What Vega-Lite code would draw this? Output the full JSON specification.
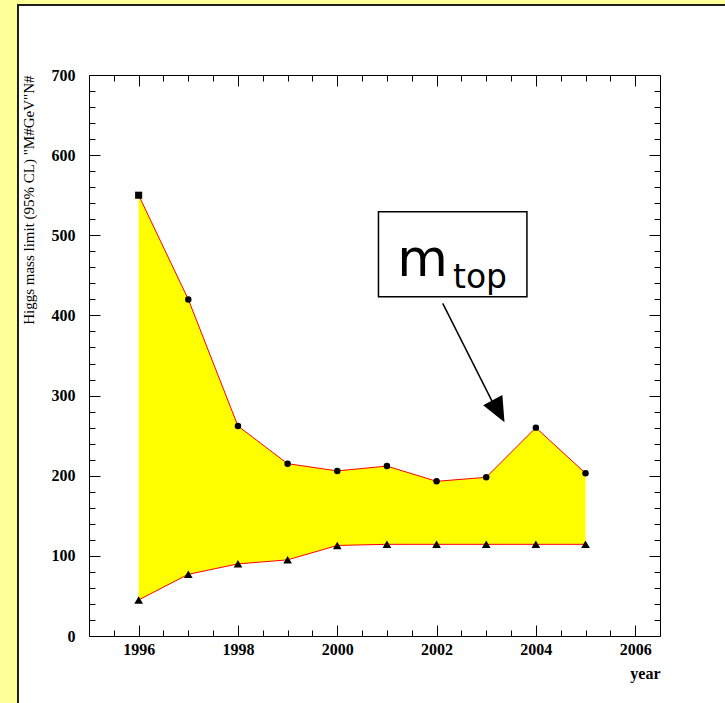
{
  "$schema": "https://vega.github.io/schema/vega-lite/v6.json",
  "width": 571,
  "height": 561,
  "autosize": {"type": "none"},
  "padding": {"left": 89, "top": 75, "right": 65, "bottom": 67},
  "background": "#ffff99",
  "config": {
    "view": {"stroke": null},
    "axis": {
      "grid": false,
      "ticks": true,
      "zindex": 2,
      "domainColor": "#000000",
      "domainWidth": 1,
      "tickColor": "#000000",
      "tickWidth": 1,
      "labelColor": "#000000",
      "titleColor": "#000000",
      "labelFont": "Liberation Serif",
      "labelFontWeight": "bold",
      "labelFontSize": 16,
      "labelOverlap": false,
      "labelFlush": false
    }
  },
  "data": {
    "values": [
      {"year": 1996, "upper": 550, "lower": 45},
      {"year": 1997, "upper": 420, "lower": 77},
      {"year": 1998, "upper": 262, "lower": 90},
      {"year": 1999, "upper": 215, "lower": 95},
      {"year": 2000, "upper": 206, "lower": 113},
      {"year": 2001, "upper": 212, "lower": 114.4},
      {"year": 2002, "upper": 193, "lower": 114.4},
      {"year": 2003, "upper": 198, "lower": 114.4},
      {"year": 2004, "upper": 260, "lower": 114.4},
      {"year": 2005, "upper": 203, "lower": 114.4}
    ]
  },
  "layer": [
    {
      "data": {"values": [{}]},
      "mark": {"type": "rect", "fill": "#ffffff", "stroke": "#1e1e1e", "strokeWidth": 2},
      "encoding": {
        "x": {"datum": 1993.57, "type": "quantitative", "scale": {"domain": [1995, 2006.5], "nice": false, "zero": false}, "axis": null},
        "x2": {"datum": 2012},
        "y": {"datum": 787.3, "type": "quantitative", "scale": {"domain": [0, 700], "nice": false, "zero": false}, "axis": null},
        "y2": {"datum": -120}
      }
    },
    {
      "mark": {"type": "area", "fill": "#ffff00", "opacity": 1},
      "encoding": {
        "x": {
          "field": "year", "type": "quantitative",
          "scale": {"domain": [1995, 2006.5], "nice": false, "zero": false},
          "axis": {
            "orient": "bottom",
            "zindex": 2,
            "values": [1996, 1998, 2000, 2002, 2004, 2006],
            "format": "d",
            "tickSize": -11,
            "labelPadding": 16,
            "title": "year",
            "titleAnchor": "end",
            "titleFont": "Liberation Serif",
            "titleFontWeight": "bold",
            "titleFontSize": 16,
            "titlePadding": 8
          }
        },
        "y": {
          "field": "upper", "type": "quantitative",
          "scale": {"domain": [0, 700], "nice": false, "zero": false},
          "axis": {
            "orient": "left",
            "zindex": 2,
            "values": [0, 100, 200, 300, 400, 500, 600, 700],
            "format": "d",
            "tickSize": -11,
            "labelPadding": 25,
            "title": "Higgs mass limit (95% CL) \"M#GeV\"N#",
            "titleAnchor": "end",
            "titleFont": "Liberation Serif",
            "titleFontWeight": "normal",
            "titleFontSize": 15,
            "titlePadding": 15
          }
        },
        "y2": {"field": "lower"}
      }
    },
    {
      "mark": {"type": "line", "color": "#ff0000", "strokeWidth": 1},
      "encoding": {
        "x": {
          "field": "year", "type": "quantitative",
          "scale": {"domain": [1995, 2006.5], "nice": false, "zero": false},
          "axis": {
            "orient": "bottom",
            "zindex": 2,
            "values": [1995.5, 1996.5, 1997, 1997.5, 1998.5, 1999, 1999.5, 2000.5, 2001, 2001.5, 2002.5, 2003, 2003.5, 2004.5, 2005, 2005.5],
            "tickSize": -6,
            "labels": false,
            "domain": false,
            "title": null
          }
        },
        "y": {
          "field": "lower", "type": "quantitative",
          "scale": {"domain": [0, 700], "nice": false, "zero": false},
          "axis": {
            "orient": "left",
            "zindex": 2,
            "values": [20, 40, 60, 80, 120, 140, 160, 180, 220, 240, 260, 280, 320, 340, 360, 380, 420, 440, 460, 480, 520, 540, 560, 580, 620, 640, 660, 680],
            "tickSize": -6,
            "labels": false,
            "domain": false,
            "title": null
          }
        }
      }
    },
    {
      "mark": {"type": "line", "color": "#ff0000", "strokeWidth": 1},
      "encoding": {
        "x": {
          "field": "year", "type": "quantitative",
          "scale": {"domain": [1995, 2006.5], "nice": false, "zero": false},
          "axis": {
            "orient": "top",
            "zindex": 2,
            "values": [1996, 1998, 2000, 2002, 2004, 2006],
            "tickSize": -11,
            "labels": false,
            "title": null
          }
        },
        "y": {
          "field": "upper", "type": "quantitative",
          "scale": {"domain": [0, 700], "nice": false, "zero": false},
          "axis": {
            "orient": "right",
            "zindex": 2,
            "values": [0, 100, 200, 300, 400, 500, 600, 700],
            "tickSize": -11,
            "labels": false,
            "title": null
          }
        }
      }
    },
    {
      "transform": [{"filter": "datum.year !== 1996"}],
      "mark": {"type": "point", "shape": "circle", "filled": true, "color": "#000000", "opacity": 1, "size": 42},
      "encoding": {
        "x": {
          "field": "year", "type": "quantitative",
          "scale": {"domain": [1995, 2006.5], "nice": false, "zero": false},
          "axis": {
            "orient": "top",
            "zindex": 2,
            "values": [1995.5, 1996.5, 1997, 1997.5, 1998.5, 1999, 1999.5, 2000.5, 2001, 2001.5, 2002.5, 2003, 2003.5, 2004.5, 2005, 2005.5],
            "tickSize": -6,
            "labels": false,
            "domain": false,
            "title": null
          }
        },
        "y": {
          "field": "upper", "type": "quantitative",
          "scale": {"domain": [0, 700], "nice": false, "zero": false},
          "axis": {
            "orient": "right",
            "zindex": 2,
            "values": [20, 40, 60, 80, 120, 140, 160, 180, 220, 240, 260, 280, 320, 340, 360, 380, 420, 440, 460, 480, 520, 540, 560, 580, 620, 640, 660, 680],
            "tickSize": -6,
            "labels": false,
            "domain": false,
            "title": null
          }
        }
      }
    },
    {
      "transform": [{"filter": "datum.year === 1996"}],
      "mark": {"type": "point", "shape": "square", "filled": true, "color": "#000000", "opacity": 1, "size": 50},
      "encoding": {
        "x": {"field": "year", "type": "quantitative", "axis": null},
        "y": {"field": "upper", "type": "quantitative", "axis": null}
      }
    },
    {
      "mark": {"type": "point", "shape": "triangle-up", "filled": true, "color": "#000000", "opacity": 1, "size": 75},
      "encoding": {
        "x": {"field": "year", "type": "quantitative", "axis": null},
        "y": {"field": "lower", "type": "quantitative", "axis": null}
      }
    },
    {
      "data": {"values": [{}]},
      "mark": {"type": "rect", "fill": "#ffffff", "stroke": "#000000", "strokeWidth": 1.5},
      "encoding": {
        "x": {"datum": 2000.83, "type": "quantitative", "axis": null},
        "x2": {"datum": 2003.82},
        "y": {"datum": 529.4, "type": "quantitative", "axis": null},
        "y2": {"datum": 423.4}
      }
    },
    {
      "data": {"values": [{}]},
      "mark": {"type": "text", "text": "m", "font": "DejaVu Sans", "fontSize": 52, "align": "left", "baseline": "alphabetic", "color": "#000000"},
      "encoding": {
        "x": {"datum": 2001.21, "type": "quantitative", "axis": null},
        "y": {"datum": 449, "type": "quantitative", "axis": null}
      }
    },
    {
      "data": {"values": [{}]},
      "mark": {"type": "text", "text": "top", "font": "DejaVu Sans", "fontSize": 33, "align": "left", "baseline": "alphabetic", "color": "#000000"},
      "encoding": {
        "x": {"datum": 2002.33, "type": "quantitative", "axis": null},
        "y": {"datum": 434, "type": "quantitative", "axis": null}
      }
    },
    {
      "data": {"values": [{}]},
      "mark": {"type": "rule", "color": "#000000", "strokeWidth": 1.5},
      "encoding": {
        "x": {"datum": 2002.124, "type": "quantitative", "axis": null},
        "y": {"datum": 415.1, "type": "quantitative", "axis": null},
        "x2": {"datum": 2003.15},
        "y2": {"datum": 289}
      }
    },
    {
      "data": {"values": [{}]},
      "mark": {"type": "point", "shape": "M-0.87,-1L0.87,-1L0,1Z", "filled": true, "color": "#000000", "opacity": 1, "size": 625, "angle": 332},
      "encoding": {
        "x": {"datum": 2003.25, "type": "quantitative", "axis": null},
        "y": {"datum": 280.6, "type": "quantitative", "axis": null}
      }
    }
  ],
  "resolve": {"axis": {"x": "independent", "y": "independent"}}
}
